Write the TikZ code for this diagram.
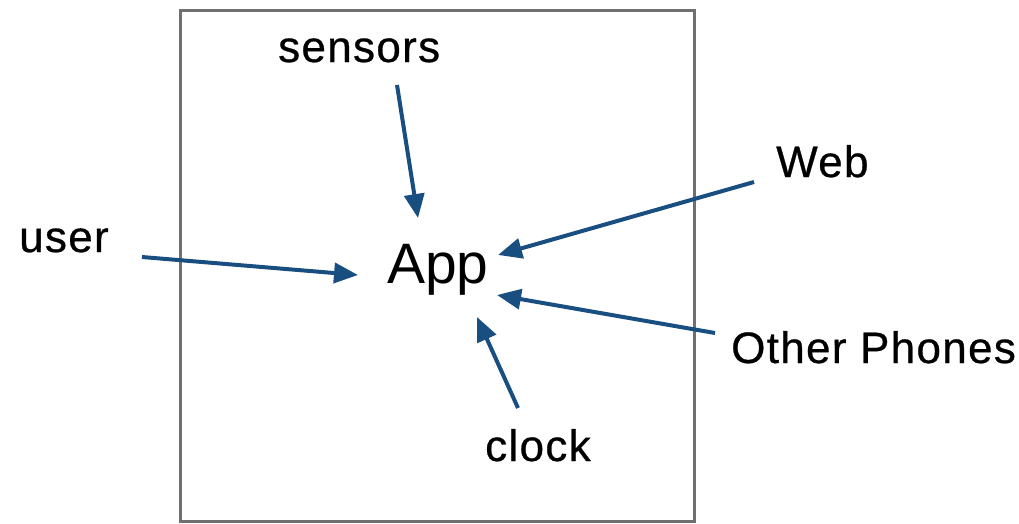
\documentclass[tikz,border=0pt]{standalone}
\usepackage{fontspec}
\setmainfont{Liberation Sans}
\newfontfamily\lblfont[LetterSpace=3,FakeBold=0.6]{Liberation Sans}
\usetikzlibrary{arrows.meta}
\definecolor{flow}{RGB}{24,78,128}
\definecolor{frame}{RGB}{112,112,112}
\begin{document}
\begin{tikzpicture}[x=1pt,y=-1pt,
  lbl/.style={inner sep=0pt,anchor=base west,font=\lblfont\fontsize{44}{48}\selectfont},
  feed/.style={draw=flow,line width=4pt,-{Triangle[length=24pt,width=20pt]}}]
\useasboundingbox (0,0) rectangle (1019,523);
% device boundary
\draw[frame,line width=3pt] (180,10) rectangle (694,521);
% labels
\node[inner sep=0pt,anchor=base west,font=\fontsize{57}{60}\selectfont] (app) at (387,283) {App};
\node[lbl] (sensors) at (278,62) {sensors};
\node[lbl] (user) at (19,252) {user};
\node[lbl] (web) at (776,177) {Web};
\node[lbl] (phones) at (731,363) {Other Phones};
\node[lbl] (clock) at (485,461) {clock};
% arrow end points
\coordinate (s0) at (397,85);   \coordinate (s1) at (418,218);
\coordinate (u0) at (142,257);  \coordinate (u1) at (358,275);
\coordinate (w0) at (754,182);  \coordinate (w1) at (498,255);
\coordinate (p0) at (715,333);  \coordinate (p1) at (497,295);
\coordinate (c0) at (518,408);  \coordinate (c1) at (477,317);
% inputs flowing into the app
\draw[feed] (s0) -- (s1);
\draw[feed] (u0) -- (u1);
\draw[feed] (w0) -- (w1);
\draw[feed] (p0) -- (p1);
\draw[feed] (c0) -- (c1);
\end{tikzpicture}
\end{document}
